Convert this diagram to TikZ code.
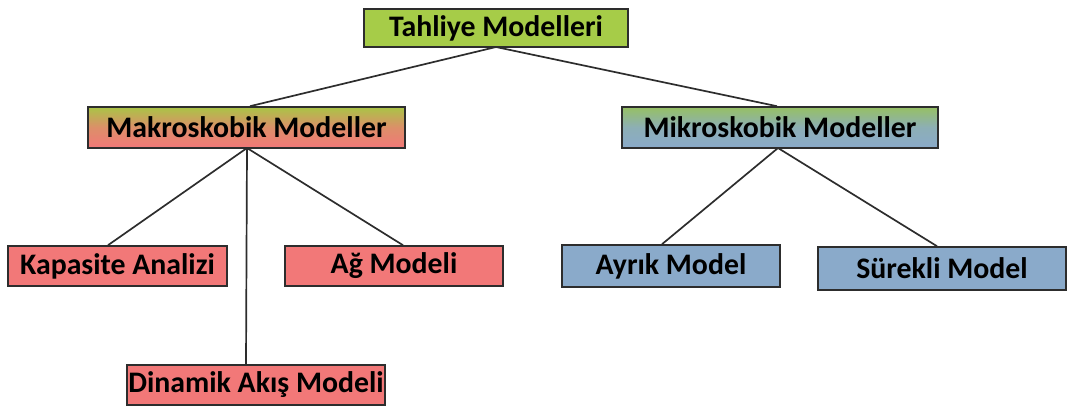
\documentclass[tikz,border=0pt]{standalone}
\usepackage{fontspec}
\setmainfont{Carlito}
\definecolor{lime}{RGB}{166,204,72}
\definecolor{redb}{RGB}{242,120,120}
\definecolor{blueb}{RGB}{138,170,202}
\definecolor{olive}{RGB}{170,196,70}
\definecolor{greenb}{RGB}{150,192,100}
\definecolor{edge}{RGB}{45,45,45}
\begin{document}
\begin{tikzpicture}[x=1pt,y=-1pt,
  box/.style={draw=edge,line width=1.6pt,inner sep=0pt,font=\fontsize{29.8}{32}\selectfont\bfseries,text=black},
  conn/.style={draw=edge,line width=1.7pt}]
\useasboundingbox (0,0) rectangle (1074,408);
\node[box,fill=lime,minimum width=264,minimum height=38] (tah) at (496,28) {Tahliye Modelleri};
\node[box,top color=olive,bottom color=redb,middle color=redb!70!olive,minimum width=317,minimum height=41] (mak) at (246.5,127.5) {Makroskobik Modeller};
\node[box,top color=greenb,bottom color=blueb,middle color=blueb!80!greenb,minimum width=316,minimum height=41] (mik) at (780,127.5) {Mikroskobik Modeller};
\node[box,fill=redb,minimum width=219,minimum height=40] (kap) at (117.5,266) {Kapasite Analizi};
\node[box,fill=redb,minimum width=218,minimum height=40] (ag) at (394,266) {Ağ Modeli};
\node[box,fill=redb,minimum width=258,minimum height=40] (din) at (256,385) {Dinamik Akış Modeli};
\node[box,fill=blueb,minimum width=218,minimum height=42] (ayr) at (671,266) {Ayrık Model};
\node[box,fill=blueb,minimum width=248,minimum height=43] (sur) at (942,268.5) {Sürekli Model};
\coordinate (tb) at (496,47);
\coordinate (mkb) at (247,148);
\coordinate (mib) at (778,148);
\draw[conn] (tb) -- (mak.north -| 250,0);
\draw[conn] (tb) -- (mik.north -| 777,0);
\draw[conn] (mkb) -- (kap.north -| 108,0);
\draw[conn] (mkb) -- (ag.north -| 403,0);
\draw[conn] (mkb) -- (din.north -| 246,0);
\draw[conn] (mib) -- (ayr.north -| 662,0);
\draw[conn] (mib) -- (sur.north -| 937,0);
\end{tikzpicture}
\end{document}
